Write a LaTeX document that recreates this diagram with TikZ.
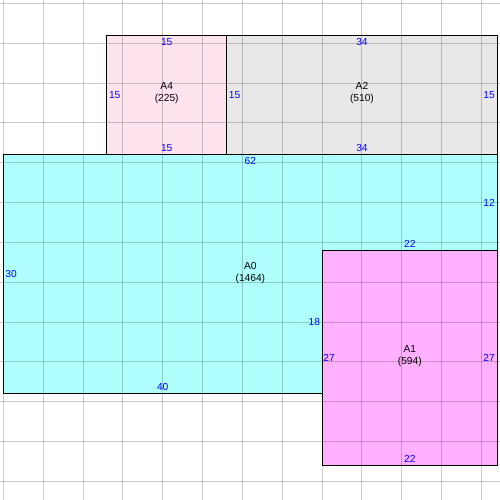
\documentclass[tikz,border=0pt]{standalone}
\usepackage{fontspec}
\setmainfont{Liberation Sans}
\usepackage[HTML]{xcolor}
\usepackage{tikz}
\usetikzlibrary{calc}

\definecolor{fillA0}{HTML}{B0FFFF}
\definecolor{fillA1}{HTML}{FFB0FF}
\definecolor{fillA2}{HTML}{E8E8E8}
\definecolor{fillA4}{HTML}{FFE3EE}
\newcommand{\planfont}{\fontsize{7.3pt}{8.6pt}\selectfont}

\tikzset{
  room/.style={draw=black, line width=0.8pt},
  dimlbl/.style={text=blue, font=\planfont, inner sep=0pt},
  namelbl/.style={font=\planfont, align=center, inner sep=0pt},
  gridline/.style={draw=black, draw opacity=0.2, line width=0.7pt}
}

\begin{document}
\begin{tikzpicture}[x=0.2cm, y=-0.2cm]
\useasboundingbox (-0.414,-0.414) rectangle (62.32,62.32);
% corners (x to the right, y downwards, one unit per step)
\coordinate (P1) at (0,19);
\coordinate (P2) at (62,19);
\coordinate (P3) at (62,31);
\coordinate (P4) at (40,31);
\coordinate (P5) at (40,49);
\coordinate (P6) at (0,49);
\coordinate (Q1) at (13,4);
\coordinate (Q2) at (28,4);
\coordinate (Q3) at (62,4);
\coordinate (R1) at (40,58);
\coordinate (R2) at (62,58);

\fill[fillA0] (P1)--(P2)--(P3)--(P4)--(P5)--(P6)--cycle; % A0
\fill[fillA4] (Q1) rectangle (P1 -| Q2);                  % A4
\fill[fillA2] (Q2) rectangle (P2);                        % A2
\fill[fillA1] (P4) rectangle (R2);                        % A1

% grid, every 5 units
\foreach \g in {0,5,...,60} {
  \draw[gridline] (\g,-0.414) -- (\g,62.32);
  \draw[gridline] (-0.414,\g) -- (62.32,\g);
}

\draw[room] (P1)--(P2)--(P3)--(P4)--(P5)--(P6)--cycle;
\draw[room] (Q1) rectangle (P1 -| Q2);
\draw[room] (Q2) rectangle (P2);
\draw[room] (P4) rectangle (R2);

% A4
\node[dimlbl] (a4t) at (20.5,4.9) {15};
\node[dimlbl] (a4l) at (13.98,11.57) {15};
\node[dimlbl] (a4b) at (20.5,18.16) {15};
\node[namelbl] (a4) at (20.5,11.29) {A4\\(225)};
% A2
\node[dimlbl] (a2t) at (45,4.9) {34};
\node[dimlbl] (a2l) at (29.03,11.57) {15};
\node[dimlbl] (a2r) at (60.94,11.57) {15};
\node[dimlbl] (a2b) at (45,18.16) {34};
\node[namelbl] (a2) at (45,11.29) {A2\\(510)};
% A0
\node[dimlbl] (a0t) at (31,19.79) {62};
\node[dimlbl] (a0l) at (0.97,33.97) {30};
\node[dimlbl] (a0r) at (60.94,25.09) {12};
\node[dimlbl] (a0i) at (51,30.2) {22};
\node[dimlbl] (a0j) at (39.02,40) {18};
\node[dimlbl] (a0b) at (20,48.18) {40};
\node[namelbl] (a0) at (31,33.8) {A0\\(1464)};
% A1
\node[dimlbl] (a1l) at (40.87,44.47) {27};
\node[dimlbl] (a1r) at (60.94,44.47) {27};
\node[dimlbl] (a1b) at (51,57.18) {22};
\node[namelbl] (a1) at (51,44.3) {A1\\(594)};
\end{tikzpicture}
\end{document}
